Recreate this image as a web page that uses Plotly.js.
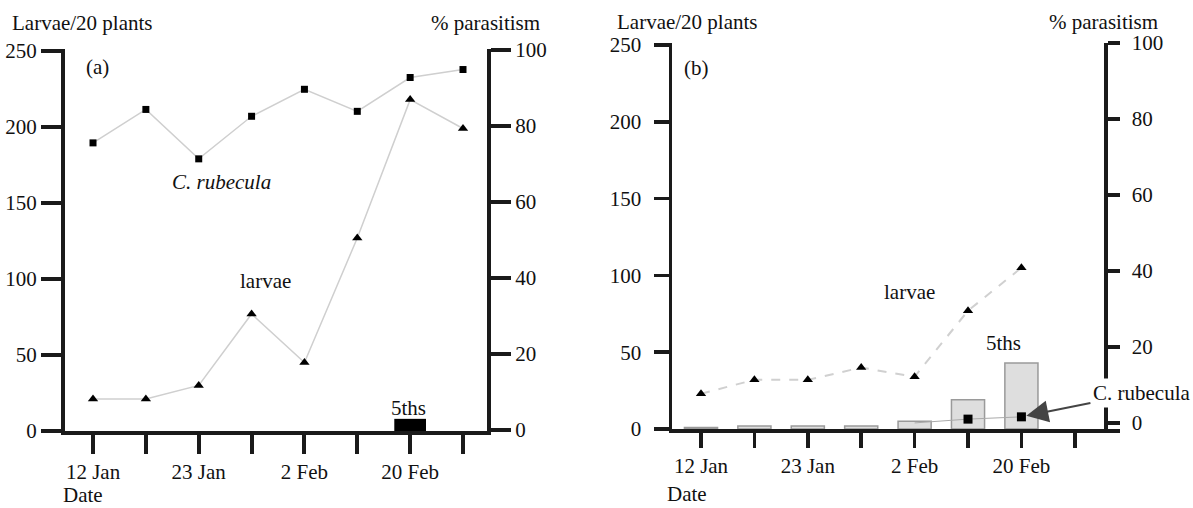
<!DOCTYPE html>
<html>
<head>
<meta charset="utf-8">
<script src="https://cdn.plot.ly/plotly-3.0.1.min.js"></script>
<style>html,body{margin:0;padding:0;background:#fff;}#chart{width:1193px;height:508px;}</style>
</head>
<body>
<div id="chart"></div>
<script>
// ---- data ----
const sampleNo = [1, 2, 3, 4, 5, 6, 7, 8];
const tickLabels = ['12 Jan', '', '23 Jan', '', '2 Feb', '', '20 Feb', ''];

// panel (a)
const larvaeA = [21, 21, 30, 77, 45, 127, 218, 199];          // larvae / 20 plants
const rubeculaA = [75.5, 84.3, 71.3, 82.5, 89.6, 83.8, 92.7, 94.8]; // % parasitism
const fifthsA = [0, 0, 0, 0, 0, 0, 8, 0];                     // 5th instars

// panel (b)
const samplesB = [1, 2, 3, 4, 5, 6, 7];
const larvaeB = [23, 32, 32, 40, 34, 77, 105];
const fifthsB = [1, 2, 2, 2, 5, 19, 43];
const rubeculaBSamples = [5, 6, 7];
const rubeculaB = [0, 1, 1.6];

const W = 1193, H = 508;
const FONT = 'Liberation Serif';
const FS = 21;
const INK = '#1a1a1a';
const px = v => v / W;
const py = v => 1 - v / H;

const traces = [
  // (a)
  {type: 'bar', x: sampleNo, y: fifthsA, xaxis: 'x', yaxis: 'y', width: 0.6,
   marker: {color: '#000', line: {width: 0}}, hoverinfo: 'skip'},
  {type: 'scatter', mode: 'lines+markers', x: sampleNo, y: larvaeA, xaxis: 'x', yaxis: 'y',
   line: {color: '#cfcfcf', width: 1.5},
   marker: {symbol: 'triangle-up', size: 9, color: '#000'}},
  {type: 'scatter', mode: 'lines+markers', x: sampleNo, y: rubeculaA, xaxis: 'x', yaxis: 'y2',
   line: {color: '#cfcfcf', width: 1.5},
   marker: {symbol: 'square', size: 7, color: '#000'}},
  // (b)
  {type: 'bar', x: samplesB, y: fifthsB, xaxis: 'x2', yaxis: 'y3', width: 0.62,
   marker: {color: '#dedede', line: {color: '#9a9a9a', width: 1.5}}, hoverinfo: 'skip'},
  {type: 'scatter', mode: 'lines+markers', x: samplesB, y: larvaeB, xaxis: 'x2', yaxis: 'y3',
   line: {color: '#d0d0d0', width: 2, dash: 'dash'},
   marker: {symbol: 'triangle-up', size: 9, color: '#000'}},
  {type: 'scatter', mode: 'lines', x: rubeculaBSamples, y: rubeculaB, xaxis: 'x2', yaxis: 'y4',
   line: {color: '#aaaaaa', width: 1}},
  {type: 'scatter', mode: 'markers', x: rubeculaBSamples.slice(1), y: rubeculaB.slice(1), xaxis: 'x2', yaxis: 'y4',
   marker: {symbol: 'square', size: 9, color: '#000', line: {width: 0}}}
];

const axisBase = {
  showline: true, linecolor: INK, linewidth: 4, showgrid: false, zeroline: false,
  ticks: 'outside', tickcolor: INK, tickwidth: 4, fixedrange: true,
  tickfont: {family: FONT, size: FS, color: '#111'}
};

const layout = {
  width: W, height: H,
  margin: {l: 0, r: 0, t: 0, b: 0},
  paper_bgcolor: '#fff', plot_bgcolor: 'rgba(0,0,0,0)',
  showlegend: false,
  font: {family: FONT, size: FS, color: '#111'},
  barmode: 'overlay',
  xaxis: Object.assign({}, axisBase, {
    domain: [px(65), px(487)], range: [0.47, 8.454], anchor: 'y',
    tickvals: sampleNo, ticktext: tickLabels, ticklen: 19, ticklabelstandoff: 0
  }),
  yaxis: Object.assign({}, axisBase, {
    domain: [py(431), py(49)], range: [0, 251.3], anchor: 'x',
    dtick: 50, ticklen: 20, ticklabelstandoff: 0
  }),
  yaxis2: Object.assign({}, axisBase, {
    overlaying: 'y', side: 'right', anchor: 'x', range: [-0.3, 100.2],
    dtick: 20, ticklen: 20, ticklabelstandoff: 0
  }),
  xaxis2: Object.assign({}, axisBase, {
    domain: [px(672), px(1120)], range: [0.457, 8.846], anchor: 'y3',
    tickvals: sampleNo, ticktext: tickLabels, ticklen: 15, linewidth: 3.5, tickwidth: 3.5,
    ticklabelstandoff: 0
  }),
  yaxis3: Object.assign({}, axisBase, {
    domain: [py(429), py(43)], range: [0, 251.3], anchor: 'x2',
    dtick: 50, ticklen: 15, linewidth: 3.5, tickwidth: 3.5, ticklabelstandoff: 8
  }),
  yaxis4: Object.assign({}, axisBase, {
    overlaying: 'y3', side: 'right', anchor: 'free', position: px(1105),
    range: [-1.6, 100], dtick: 20, ticklen: 12, linewidth: 3.5, tickwidth: 3.5,
    ticklabelstandoff: 8
  }),
  annotations: [
    // panel (a)
    {text: 'Larvae/20 plants', xref: 'paper', yref: 'paper', x: px(10), y: py(23), xanchor: 'left', yanchor: 'middle', showarrow: false},
    {text: '% parasitism', xref: 'paper', yref: 'paper', x: px(485), y: py(23), xanchor: 'center', yanchor: 'middle', showarrow: false},
    {text: 'Date', xref: 'paper', yref: 'paper', x: px(61), y: py(495), xanchor: 'left', yanchor: 'middle', showarrow: false},
    {text: '(a)', xref: 'paper', yref: 'paper', x: px(97), y: py(67), xanchor: 'center', yanchor: 'middle', showarrow: false},
    {text: '<i>C. rubecula</i>', xref: 'paper', yref: 'paper', x: px(221), y: py(182), xanchor: 'center', yanchor: 'middle', showarrow: false},
    {text: 'larvae', xref: 'paper', yref: 'paper', x: px(265), y: py(281), xanchor: 'center', yanchor: 'middle', showarrow: false},
    {text: '5ths', xref: 'paper', yref: 'paper', x: px(408), y: py(408), xanchor: 'center', yanchor: 'middle', showarrow: false},
    // panel (b)
    {text: 'Larvae/20 plants', xref: 'paper', yref: 'paper', x: px(615), y: py(22), xanchor: 'left', yanchor: 'middle', showarrow: false},
    {text: '% parasitism', xref: 'paper', yref: 'paper', x: px(1103), y: py(22), xanchor: 'center', yanchor: 'middle', showarrow: false},
    {text: 'Date', xref: 'paper', yref: 'paper', x: px(665), y: py(494), xanchor: 'left', yanchor: 'middle', showarrow: false},
    {text: '(b)', xref: 'paper', yref: 'paper', x: px(696), y: py(68), xanchor: 'center', yanchor: 'middle', showarrow: false},
    {text: 'larvae', xref: 'paper', yref: 'paper', x: px(909), y: py(292), xanchor: 'center', yanchor: 'middle', showarrow: false},
    {text: '5ths', xref: 'paper', yref: 'paper', x: px(1003), y: py(343), xanchor: 'center', yanchor: 'middle', showarrow: false},
    {text: 'C. rubecula', xref: 'x2', yref: 'y4', x: 7, y: 1.6, ax: 120, ay: -24,
     showarrow: true, arrowhead: 2, arrowsize: 2.2, arrowwidth: 2, arrowcolor: '#444', standoff: 5,
     bgcolor: '#fff', borderpad: 2}
  ]
};

Plotly.newPlot('chart', traces, layout, {staticPlot: true, displayModeBar: false});
</script>
</body>
</html>
